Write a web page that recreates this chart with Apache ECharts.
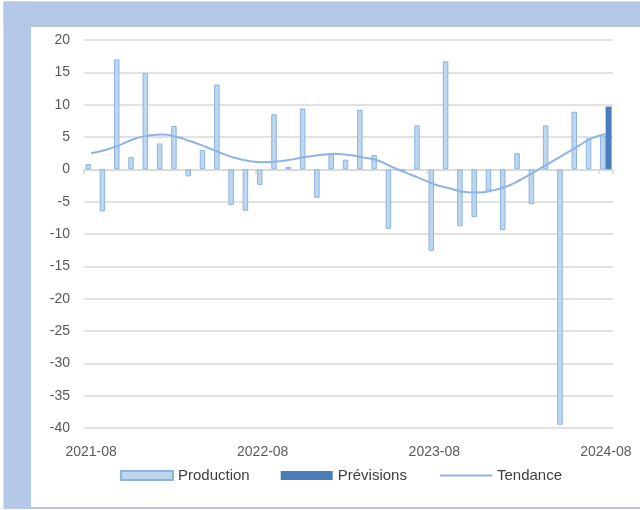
<!DOCTYPE html>
<html>
<head>
<meta charset="utf-8">
<script src="https://cdn.jsdelivr.net/npm/echarts@6/dist/echarts.min.js"></script>
<style>
html,body{margin:0;padding:0;background:#fff;}
#c{width:640px;height:510px;}
</style>
</head>
<body>
<div id="c"></div>
<script>
const categories = ['2021-08','2021-09','2021-10','2021-11','2021-12','2022-01','2022-02','2022-03','2022-04','2022-05','2022-06','2022-07',
  '2022-08','2022-09','2022-10','2022-11','2022-12','2023-01','2023-02','2023-03','2023-04','2023-05','2023-06','2023-07',
  '2023-08','2023-09','2023-10','2023-11','2023-12','2024-01','2024-02','2024-03','2024-04','2024-05','2024-06','2024-07','2024-08'];
const production = [0.8, -6.5, 17.0, 1.9, 14.9, 4.0, 6.7, -1.1, 3.0, 13.1, -5.5, -6.4,
  -2.4, 8.5, 0.4, 9.4, -4.4, 2.5, 1.5, 9.2, 2.2, -9.2, -0.3, 6.8,
  -12.6, 16.7, -8.8, -7.4, -3.3, -9.4, 2.5, -5.4, 6.8, -39.5, 8.9, 4.8, 5.2];
const previsions = ['-','-','-','-','-','-','-','-','-','-','-','-',
  '-','-','-','-','-','-','-','-','-','-','-','-',
  '-','-','-','-','-','-','-','-','-','-','-','-', 9.7];
const tendance = [2.5, 3.0, 3.75, 4.7, 5.2, 5.4, 5.0, 4.3, 3.5, 2.6, 1.8, 1.3,
  1.1, 1.2, 1.5, 1.9, 2.2, 2.4, 2.2, 1.85, 1.4, 0.4, -0.5, -1.4,
  -2.3, -2.9, -3.45, -3.6, -3.3, -2.7, -1.65, -0.4, 0.9, 2.2, 3.5, 4.8, 5.45];
const yTicks = {min: -40, max: 20, interval: 5};

const font = '"Liberation Sans", Arial, sans-serif';
const legendText = {fontSize: 15, color: '#404040', fontFamily: font};
const chart = echarts.init(document.getElementById('c'), null, {renderer: 'canvas'});
chart.setOption({
  animation: false,
  backgroundColor: '#ffffff',
  textStyle: {fontFamily: font},
  graphic: [
    {type: 'rect', shape: {x: 3.5, y: 1.5, width: 637, height: 25.5}, style: {fill: '#b4c7e7'}, silent: true},
    {type: 'rect', shape: {x: 3.5, y: 1.5, width: 27.5, height: 507}, style: {fill: '#b4c7e7'}, silent: true},
    {type: 'rect', shape: {x: 3.5, y: 507, width: 637, height: 2}, style: {fill: '#b4c7e7'}, silent: true}
  ],
  grid: {left: 84, right: 27, top: 40, bottom: 82, containLabel: false},
  legend: [
    {
      left: 115, top: 463,
      itemWidth: 52, itemHeight: 9, itemGap: 31,
      textStyle: legendText,
      data: [
        {name: 'Production', icon: 'rect'},
        {name: 'Prévisions', icon: 'rect'}
      ]
    },
    {
      left: 435, top: 463,
      itemWidth: 52, itemHeight: 2,
      textStyle: legendText,
      data: [{name: 'Tendance', icon: 'rect'}]
    }
  ],
  xAxis: [
    {
      type: 'category', data: categories, boundaryGap: true,
      position: 'bottom',
      axisLine: {show: false, onZero: false},
      axisTick: {show: false},
      axisLabel: {interval: 11, color: '#595959', fontSize: 14, margin: 17, fontFamily: font},
      splitLine: {show: false}
    },
    {
      type: 'category', data: categories, boundaryGap: true,
      position: 'bottom',
      axisLine: {show: true, onZero: true, lineStyle: {color: '#d9d9d9', width: 1.5}},
      axisTick: {show: true, interval: 11, length: 5, lineStyle: {color: '#d9d9d9', width: 1.5}},
      axisLabel: {show: false},
      splitLine: {show: false}
    }
  ],
  yAxis: {
    type: 'value', min: yTicks.min, max: yTicks.max, interval: yTicks.interval,
    axisLine: {show: false}, axisTick: {show: false},
    axisLabel: {color: '#595959', fontSize: 14, margin: 14, fontFamily: font},
    splitLine: {show: true, lineStyle: {color: '#d9d9d9', width: 1.5}}
  },
  series: [
    {
      name: 'Production', type: 'bar', data: production, xAxisIndex: 0,
      barWidth: 5.5, barGap: '0%',
      itemStyle: {color: '#bdd7ee', borderColor: '#8db3e2', borderWidth: 1}
    },
    {
      name: 'Prévisions', type: 'bar', data: previsions, xAxisIndex: 0,
      barWidth: 6, barGap: '0%',
      itemStyle: {color: '#4a7ebb'}
    },
    {
      name: 'Tendance', type: 'line', data: tendance, xAxisIndex: 0,
      smooth: true, symbol: 'none', showSymbol: false,
      lineStyle: {color: '#8eb4e3', width: 2},
      itemStyle: {color: '#8eb4e3'},
      z: 3
    }
  ]
});
</script>
</body>
</html>
